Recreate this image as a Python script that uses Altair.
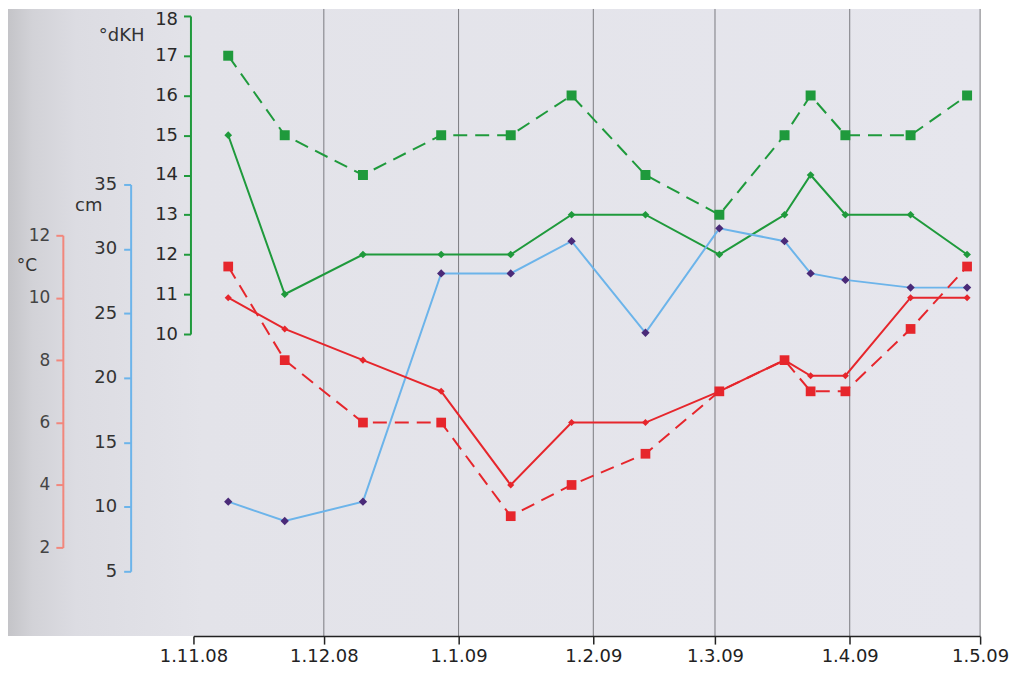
import altair as alt
import pandas as pd

# ---- data ----
dates = ["2008-11-09", "2008-11-22", "2008-12-10", "2008-12-28", "2009-01-13",
         "2009-01-27", "2009-02-13", "2009-03-02", "2009-03-17", "2009-03-23",
         "2009-03-31", "2009-04-15", "2009-04-28"]
kh_dashed = [17, 15, 14, 15, 15, 16, 14, 13, 15, 16, 15, 15, 16]
kh_solid = [15, 11, 12, 12, 12, 13, 13, 12, 13, 14, 13, 13, 12]
depth_cm = [10.4, 8.9, 10.4, 28.1, 28.1, 30.6, 23.5, 31.6, 30.6, 28.1, 27.6, 27.0, 27.0]
temp_solid = [10, 9, 8, 7, 4, 6, 6, 7, 8, 7.5, 7.5, 10, 10]
temp_dashed = [11, 8, 6, 6, 3, 4, 5, 7, 8, 7, 7, 9, 11]

month_ticks = ["2008-11-01", "2008-12-01", "2009-01-01", "2009-02-01",
               "2009-03-01", "2009-04-01", "2009-05-01"]
grid_dates = month_ticks[1:]
kh_ticks = [10, 11, 12, 13, 14, 15, 16, 17, 18]
cm_ticks = [5, 10, 15, 20, 25, 30, 35]
c_ticks = [2, 4, 6, 8, 10, 12]

GREEN = "#1f9a3c"
BLUE = "#6cb4ea"
PURPLE = "#4a2a78"
RED = "#e6262c"
SALMON = "#f2877c"
FONT = "DejaVu Sans"

TOP = 3  # small top padding so the "18" label is not clipped


def dt(s):
    y, m, d = (int(p) for p in s.split("-"))
    return alt.DateTime(year=y, month=m, date=d, utc=True)


xscale = alt.Scale(type="utc", domain=[dt(month_ticks[0]), dt(month_ticks[-1])])
xaxis = alt.Axis(values=[dt(s) for s in month_ticks], format="%-d.%-m.%y",
                 title=None, grid=False, domainColor="#222", domainWidth=1.5,
                 tickColor="#222", tickWidth=1.5, tickSize=8,
                 labelFont=FONT, labelFontSize=18, labelColor="#222",
                 labelPadding=3, labelFlush=False, labelOverlap=False, zindex=2)
x_enc = alt.X("date:T", scale=xscale, axis=xaxis)

green_df = pd.DataFrame({"date": dates * 2, "value": kh_dashed + kh_solid,
                         "series": ["dashed"] * len(dates) + ["solid"] * len(dates)})
blue_df = pd.DataFrame({"date": dates, "value": depth_cm})
red_df = pd.DataFrame({"date": dates * 2, "value": temp_dashed + temp_solid,
                       "series": ["dashed"] * len(dates) + ["solid"] * len(dates)})


def yaxis(color, offset, values, labcolor, labsize, pad, **extra):
    return alt.Axis(orient="left", offset=offset, values=values, title=None,
                    grid=False, domainColor=color, domainWidth=2,
                    tickColor=color, tickWidth=2, tickSize=7,
                    labelFont=FONT, labelFontSize=labsize, labelColor=labcolor,
                    labelPadding=pad, labelOverlap=False, labelFlush=False,
                    zindex=2, **extra)


y_green = alt.Y("value:Q", scale=alt.Scale(domain=[10, 18], range=[326 - TOP, 7 - TOP], zero=False, nice=False),
                axis=yaxis(GREEN, 3, kh_ticks, "#2a2a2a", 18, 6,
                           labelOffset={"condition": {"test": "datum.value == 18", "value": 4}, "value": 0}))
y_blue = alt.Y("value:Q", scale=alt.Scale(domain=[5, 35], range=[564 - TOP, 176 - TOP], zero=False, nice=False),
               axis=yaxis(BLUE, 63, cm_ticks, "#333", 18, 7))
y_red = alt.Y("value:Q", scale=alt.Scale(domain=[2, 12], range=[540 - TOP, 227 - TOP], zero=False, nice=False),
              axis=yaxis(SALMON, 131, c_ticks, "#444", 17, 6))

H = 629 - TOP

# background (scanned page tone)
bg = alt.Chart(pd.DataFrame({"k": [0]})).mark_rect(
    fill=alt.LinearGradient(
        gradient="linear", x1=0, x2=1, y1=0, y2=0,
        stops=[alt.GradientStop(color="#c4c4c8", offset=0),
               alt.GradientStop(color="#d2d2d7", offset=0.025),
               alt.GradientStop(color="#dcdce2", offset=0.07),
               alt.GradientStop(color="#e3e3e9", offset=0.2),
               alt.GradientStop(color="#e6e6ed", offset=1)])
).encode(x=alt.value(-186), x2=alt.value(789), y=alt.value(-TOP), y2=alt.value(H))

grid = alt.Chart(pd.DataFrame({"date": grid_dates})).mark_rule(
    color="#7a7a80", strokeWidth=1).encode(x=x_enc, y=alt.value(-TOP), y2=alt.value(H))

gbase = alt.Chart(green_df)
green = alt.layer(
    gbase.transform_filter(alt.datum.series == "dashed").mark_line(
        color=GREEN, strokeWidth=2, strokeDash=[14, 8]).encode(x=x_enc, y=y_green),
    gbase.transform_filter(alt.datum.series == "dashed").mark_point(
        shape="square", filled=True, size=100, color=GREEN, opacity=1).encode(x=x_enc, y=y_green),
    gbase.transform_filter(alt.datum.series == "solid").mark_line(
        color=GREEN, strokeWidth=2).encode(x=x_enc, y=y_green),
    gbase.transform_filter(alt.datum.series == "solid").mark_point(
        shape="diamond", filled=True, size=60, color=GREEN, opacity=1).encode(x=x_enc, y=y_green),
)

bbase = alt.Chart(blue_df)
blue = alt.layer(
    bbase.mark_line(color=BLUE, strokeWidth=2).encode(x=x_enc, y=y_blue),
    bbase.mark_point(shape="diamond", filled=True, size=70, color=PURPLE, opacity=1).encode(x=x_enc, y=y_blue),
)

rbase = alt.Chart(red_df)
red = alt.layer(
    rbase.transform_filter(alt.datum.series == "dashed").mark_line(
        color=RED, strokeWidth=2, strokeDash=[14, 8]).encode(x=x_enc, y=y_red),
    rbase.transform_filter(alt.datum.series == "dashed").mark_point(
        shape="square", filled=True, size=95, color=RED, opacity=1).encode(x=x_enc, y=y_red),
    rbase.transform_filter(alt.datum.series == "solid").mark_line(
        color=RED, strokeWidth=2).encode(x=x_enc, y=y_red),
    rbase.transform_filter(alt.datum.series == "solid").mark_point(
        shape="diamond", filled=True, size=50, color=RED, opacity=1).encode(x=x_enc, y=y_red),
)


def label(txt, xv, yv, size):
    return alt.Chart(pd.DataFrame({"t": [txt]})).mark_text(
        font=FONT, fontSize=size, color="#333", align="center", baseline="middle"
    ).encode(x=alt.value(xv), y=alt.value(yv - TOP), text="t:N")


titles = alt.layer(
    label("°dKH", -72, 27, 18),
    label("cm", -105, 198, 18),
    label("°C", -167, 258, 17),
)

chart = alt.layer(bg, grid, green, blue, red, titles).resolve_scale(
    y="independent"
).properties(
    width=789, height=H,
    padding={"left": 186, "top": TOP, "right": 40, "bottom": 35},
    autosize=alt.AutoSizeParams(type="none"),
    background="white",
).configure_view(stroke=None)

chart.save("out.html", embed_options={"renderer": "svg", "actions": False})
